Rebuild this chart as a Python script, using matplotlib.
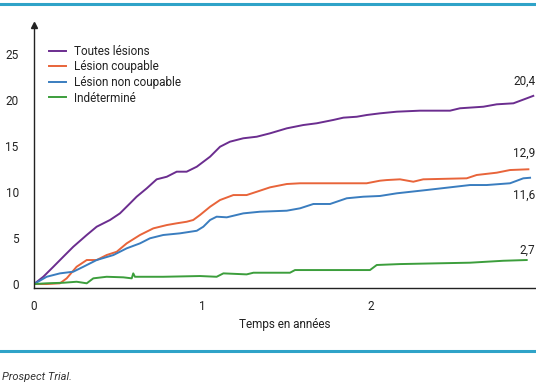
import matplotlib
matplotlib.use("Agg")
import matplotlib.pyplot as plt
from matplotlib.lines import Line2D

plt.rcParams['font.family'] = ['Roboto', 'DejaVu Sans']

# Kaplan-Meier style cumulative curves
t_toutes = [0, 0.055, 0.115, 0.174, 0.233, 0.313, 0.372, 0.451, 0.510, 0.570, 0.609, 0.669,
            0.728, 0.788, 0.847, 0.906, 0.966, 1.045, 1.104, 1.163, 1.242, 1.322, 1.401,
            1.500, 1.598, 1.678, 1.776, 1.836, 1.915, 1.975, 2.053, 2.153, 2.291, 2.469,
            2.528, 2.667, 2.746, 2.845, 2.924, 2.963]
y_toutes = [0, 0.79, 1.88, 2.97, 4.05, 5.33, 6.23, 6.96, 7.68, 8.77, 9.49, 10.40,
            11.38, 11.66, 12.21, 12.21, 12.75, 13.84, 14.92, 15.47, 15.84, 16.01, 16.38,
            16.92, 17.28, 17.47, 17.83, 18.08, 18.18, 18.37, 18.55, 18.73, 18.84, 18.84,
            19.10, 19.27, 19.53, 19.64, 20.18, 20.45]

t_coupable = [0, 0.075, 0.154, 0.194, 0.253, 0.313, 0.372, 0.431, 0.491, 0.550, 0.629,
              0.708, 0.788, 0.847, 0.906, 0.945, 0.985, 1.045, 1.104, 1.183, 1.262, 1.322,
              1.401, 1.500, 1.579, 1.776, 1.974, 2.053, 2.093, 2.172, 2.251, 2.310, 2.568,
              2.627, 2.746, 2.825, 2.934]
y_coupable = [0, 0.0, 0.08, 0.62, 1.88, 2.61, 2.61, 3.15, 3.51, 4.42, 5.33,
              6.05, 6.41, 6.60, 6.77, 6.96, 7.50, 8.40, 9.13, 9.67, 9.67, 10.03,
              10.51, 10.87, 10.95, 10.95, 10.95, 11.23, 11.30, 11.38, 11.12, 11.38, 11.49,
              11.85, 12.10, 12.39, 12.47]

t_non_coupable = [0, 0.075, 0.154, 0.233, 0.293, 0.372, 0.471, 0.550, 0.629, 0.688, 0.767,
                  0.866, 0.966, 1.005, 1.045, 1.084, 1.144, 1.242, 1.341, 1.500, 1.579,
                  1.658, 1.757, 1.856, 1.954, 2.053, 2.153, 2.331, 2.469, 2.588, 2.687,
                  2.825, 2.904, 2.944]
y_non_coupable = [0, 0.79, 1.16, 1.34, 1.88, 2.61, 3.15, 3.88, 4.42, 4.97, 5.33,
                  5.51, 5.79, 6.23, 6.96, 7.32, 7.25, 7.68, 7.86, 7.97, 8.23,
                  8.70, 8.70, 9.32, 9.49, 9.57, 9.86, 10.22, 10.51, 10.76, 10.76,
                  10.95, 11.49, 11.55]

t_indetermine = [0, 0.075, 0.174, 0.253, 0.313, 0.352, 0.431, 0.530, 0.580, 0.589, 0.599,
                 0.767, 0.985, 1.084, 1.124, 1.262, 1.302, 1.519, 1.549, 1.994, 2.034,
                 2.172, 2.390, 2.588, 2.785, 2.924]
y_indetermine = [0, 0.08, 0.14, 0.25, 0.08, 0.62, 0.79, 0.73, 0.62, 1.16, 0.79,
                 0.79, 0.87, 0.79, 1.16, 1.05, 1.23, 1.23, 1.52, 1.52, 2.07,
                 2.17, 2.25, 2.32, 2.53, 2.61]

series_names = ["Toutes lésions", "Lésion coupable", "Lésion non coupable", "Indéterminé"]
end_labels = ["20,4", "12,9", "11,6", "2,7"]
colors = ["#6b2d8f", "#e8643a", "#3a7dbf", "#3c9e3c"]

fig = plt.figure(figsize=(5.36, 3.86), dpi=100)
ax = fig.add_axes([34 / 536, (386 - 288) / 386, 502 / 536, 263 / 386])

series = [(t_toutes, y_toutes), (t_coupable, y_coupable),
          (t_non_coupable, y_non_coupable), (t_indetermine, y_indetermine)]
for (t, y), name, c in zip(series, series_names, colors):
    ax.plot(t, y, color=c, lw=1.4, label=name)

ax.set_xlim(0, 502 / 168.5)
ax.set_ylim(-0.43, 28.15)

ax.set_xticks([0, 1, 2])
ax.set_yticks([0, 5, 10, 15, 20, 25])
ax.tick_params(length=0, labelsize=8.5, colors="#222222")
ax.tick_params(axis="y", pad=11)
ax.tick_params(axis="x", pad=9)
for s in ["top", "right"]:
    ax.spines[s].set_visible(False)
for s in ["left", "bottom"]:
    ax.spines[s].set_color("#222222")
    ax.spines[s].set_linewidth(1.0)

# arrow head on the y axis
ax.plot(0, 1, marker="^", color="#222222", markersize=5,
        transform=ax.transAxes, clip_on=False)

ax.set_xlabel("Temps en années", fontsize=8.5, color="#222222", labelpad=3)

# values at the end of each curve, right-aligned on the figure edge
label_y = [22.0, 14.2, 9.6, 3.7]
for lab, ly in zip(end_labels, label_y):
    ax.text(0.999, ly, lab, fontsize=8.5, color="#222222", ha="right", va="center",
            transform=ax.get_yaxis_transform())

handles = [Line2D([0], [0], color=c, lw=1.4) for c in colors]
ax.legend(handles, series_names, loc="upper left", bbox_to_anchor=(0.008, 0.965),
          frameon=False, fontsize=8.5, handlelength=1.5, handletextpad=0.65,
          labelspacing=0.22, labelcolor="#222222")

# cyan frame lines and source
fig.add_artist(Line2D([0, 1], [1 - 4 / 386] * 2, color="#2fa3c8", lw=2.2,
                      transform=fig.transFigure))
fig.add_artist(Line2D([0, 1], [1 - 351 / 386] * 2, color="#2fa3c8", lw=2.2,
                      transform=fig.transFigure))
fig.text(2 / 536, 1 - 377 / 386, "Prospect Trial.", fontsize=8, style="italic",
         color="#333333", va="center", ha="left")

fig.savefig("out.png", dpi=100, facecolor="white")
